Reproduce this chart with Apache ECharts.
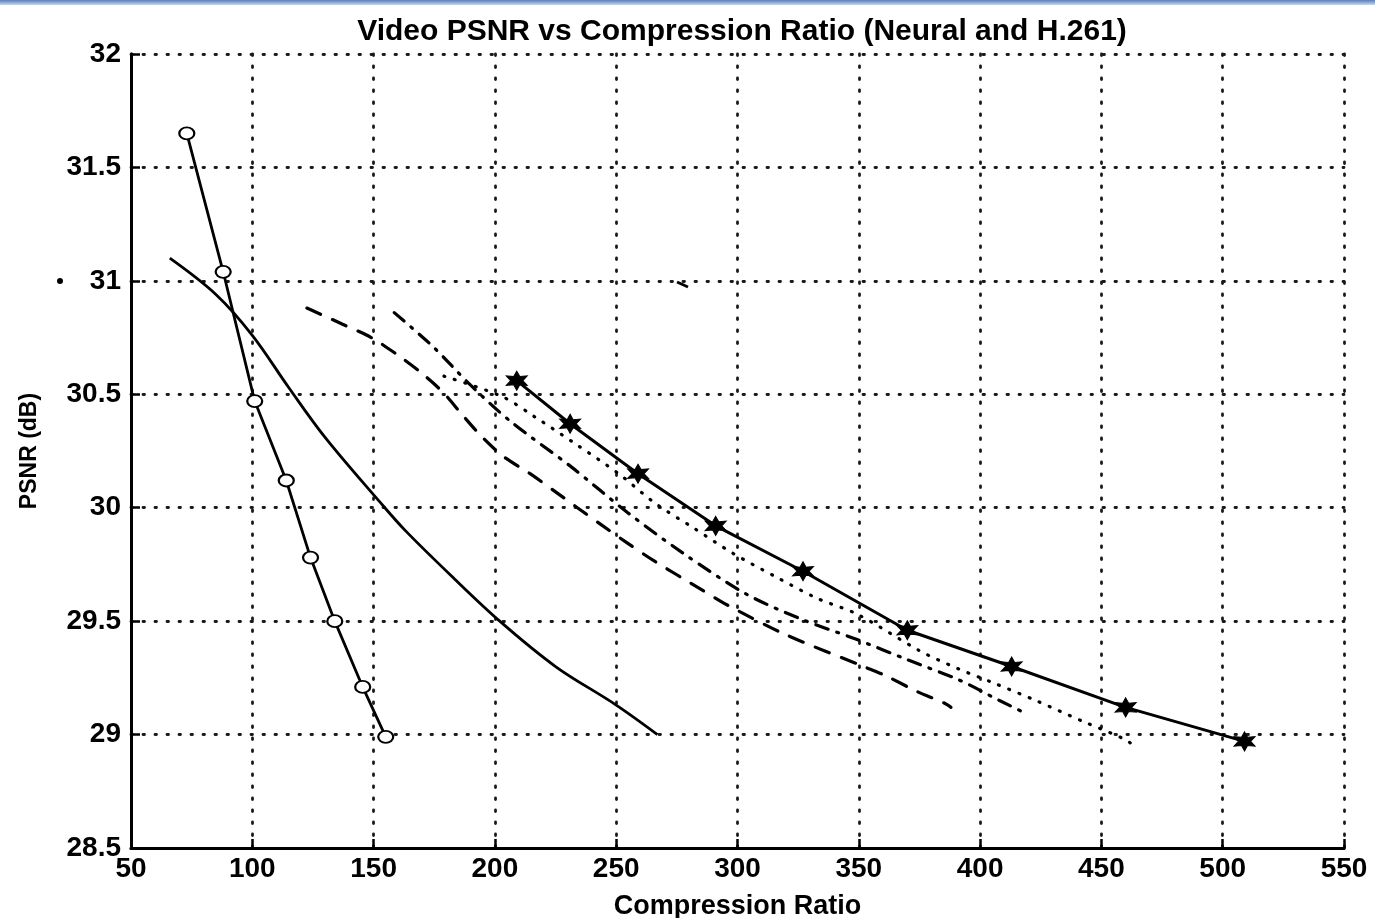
<!DOCTYPE html>
<html>
<head>
<meta charset="utf-8">
<script src="https://cdn.jsdelivr.net/npm/echarts@6/dist/echarts.min.js"></script>
<style>
html,body{margin:0;padding:0;background:#fff;}
#chart{width:1375px;height:918px;}
</style>
</head>
<body>
<div id="chart"></div>
<script>
// ---- data ----
const xTicks = [50, 100, 150, 200, 250, 300, 350, 400, 450, 500, 550];
const yTicks = [28.5, 29, 29.5, 30, 30.5, 31, 31.5, 32];

// solid line with open circles
const circX = [73, 88, 101, 114, 124, 134, 145.5, 155];
const circY = [31.65, 31.04, 30.47, 30.12, 29.78, 29.5, 29.21, 28.99];

// smooth solid curve
const solidX = [66, 85, 100, 115, 130, 153, 163, 182, 202, 225, 250, 267];
const solidY = [31.10, 30.94, 30.76, 30.53, 30.31, 30.02, 29.90, 29.70, 29.50, 29.30, 29.13, 29.0];

// dashed curve
const dashX = [122.5, 137, 149, 159, 169, 178.5, 186.5, 194, 203, 214.5, 225, 234, 244.5, 254.5, 265, 285, 296, 320, 352, 361, 374, 385, 388];
const dashY = [30.88, 30.81, 30.75, 30.68, 30.60, 30.51, 30.41, 30.32, 30.23, 30.15, 30.07, 30.0, 29.92, 29.845, 29.77, 29.64, 29.57, 29.44, 29.30, 29.26, 29.19, 29.14, 29.12];

// dash-dot curve
const dashDotX = [158.5, 174.5, 190, 206.5, 231.5, 254.5, 277.5, 303.5, 326, 349, 370, 391.5, 408, 419.5];
const dashDotY = [30.86, 30.71, 30.54, 30.38, 30.18, 29.98, 29.80, 29.62, 29.51, 29.42, 29.33, 29.24, 29.15, 29.09];

// dotted curve
const dotX = [179, 203, 216.5, 232, 251, 266, 282, 298, 315, 333, 349.5, 375, 391, 405, 423, 442, 459.5, 463.5];
const dotY = [30.58, 30.49, 30.40, 30.29, 30.15, 30.02, 29.91, 29.80, 29.70, 29.60, 29.53, 29.37, 29.29, 29.23, 29.15, 29.06, 28.98, 28.95];

// solid line with star markers
const starX = [209, 231, 259, 291, 327, 370, 413, 460, 509];
const starY = [30.56, 30.37, 30.15, 29.92, 29.72, 29.46, 29.30, 29.12, 28.97];

const zip = (xs, ys) => xs.map((x, i) => [x, ys[i]]);

const starPath = 'path://M0,-10L2.5,-4.33L8.66,-5L5,0L8.66,5L2.5,4.33L0,10L-2.5,4.33L-8.66,5L-5,0L-8.66,-5L-2.5,-4.33Z';

const FONT = 'Liberation Sans, Arial, sans-serif';
const chart = echarts.init(document.getElementById('chart'), null, {renderer: 'canvas'});

const gridLine = {show: true, lineStyle: {color: '#1a1a1a', width: 2.8, type: [1.5, 10.5], cap: 'round'}};

chart.setOption({
  animation: false,
  backgroundColor: '#ffffff',
  title: {
    text: 'Video PSNR vs Compression Ratio (Neural and H.261)',
    left: 737, top: 12, textAlign: 'center',
    textStyle: {fontFamily: FONT, fontWeight: 'bold', fontSize: 30, color: '#000'}
  },
  graphic: [
    {
      type: 'rect', left: 0, top: 0, silent: true,
      shape: {width: 1375, height: 5},
      style: {fill: new echarts.graphic.LinearGradient(0, 0, 0, 1, [
        {offset: 0, color: '#5a7fb8'}, {offset: 1, color: '#c9d6ea'}])}
    },
    {type: 'circle', silent: true, shape: {cx: 60, cy: 281, r: 3}, style: {fill: '#000'}},
    {type: 'line', silent: true, shape: {x1: 677, y1: 282, x2: 688, y2: 287}, style: {stroke: '#000', lineWidth: 3}}
  ],
  grid: {left: 131, right: 31, top: 54, bottom: 70, containLabel: false, outerBoundsMode: 'none'},
  xAxis: {
    type: 'value', min: 50, max: 550, interval: 50,
    name: 'Compression Ratio', nameLocation: 'middle', nameGap: 45,
    nameTextStyle: {fontFamily: FONT, fontWeight: 'bold', fontSize: 27, color: '#000'},
    axisLine: {show: true, onZero: false, lineStyle: {color: '#000', width: 3}},
    axisTick: {show: true, inside: true, length: 9, lineStyle: {color: '#000', width: 2.5}},
    axisLabel: {margin: 7, fontFamily: FONT, fontWeight: 'bold', fontSize: 28, color: '#000',
      formatter: v => xTicks.includes(v) ? String(v) : ''},
    splitLine: gridLine
  },
  yAxis: {
    type: 'value', min: 28.5, max: 32, interval: 0.5,
    name: 'PSNR (dB)', nameLocation: 'middle', nameGap: 90, nameRotate: 90,
    nameTextStyle: {fontFamily: FONT, fontWeight: 'bold', fontSize: 23, color: '#000'},
    axisLine: {show: true, onZero: false, lineStyle: {color: '#000', width: 3}},
    axisTick: {show: true, inside: true, length: 9, lineStyle: {color: '#000', width: 2.5}},
    axisLabel: {margin: 10, fontFamily: FONT, fontWeight: 'bold', fontSize: 28, color: '#000',
      formatter: v => yTicks.includes(v) ? String(v) : ''},
    splitLine: gridLine
  },
  series: [
    {
      type: 'line', name: 'circles', data: zip(circX, circY),
      symbol: 'emptyCircle', symbolSize: [15, 12], showAllSymbol: true,
      lineStyle: {color: '#000', width: 2.8},
      itemStyle: {color: '#000', borderColor: '#000', borderWidth: 3}, z: 5
    },
    {
      type: 'line', name: 'solid', data: zip(solidX, solidY), smooth: 0.35,
      symbol: 'none', lineStyle: {color: '#000', width: 2.8}
    },
    {
      type: 'line', name: 'dashed', data: zip(dashX, dashY), smooth: 0.3,
      symbol: 'none', lineStyle: {color: '#000', width: 3.2, type: [15, 13], cap: 'round'}
    },
    {
      type: 'line', name: 'dashdot', data: zip(dashDotX, dashDotY), smooth: 0.3,
      symbol: 'none', lineStyle: {color: '#000', width: 3.2, type: [13, 9, 2, 9], cap: 'round'}
    },
    {
      type: 'line', name: 'dotted', data: zip(dotX, dotY), smooth: 0.3,
      symbol: 'none', lineStyle: {color: '#000', width: 3.2, type: [1, 10], cap: 'round'}
    },
    {
      type: 'line', name: 'stars', data: zip(starX, starY),
      symbol: starPath, symbolSize: [21, 19], showAllSymbol: true,
      lineStyle: {color: '#000', width: 3},
      itemStyle: {color: '#000', borderColor: '#000', borderWidth: 1}, z: 5
    }
  ]
});
</script>
</body>
</html>
